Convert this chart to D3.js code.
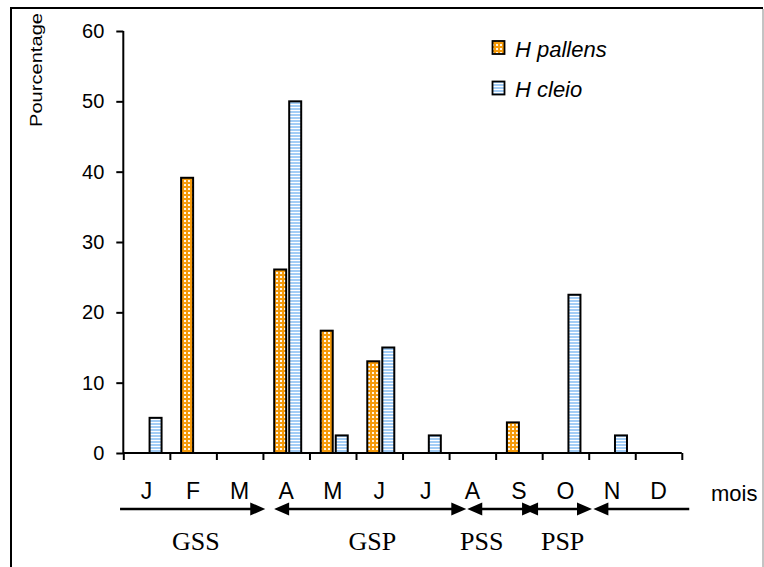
<!DOCTYPE html>
<html>
<head>
<meta charset="utf-8">
<script src="https://cdn.jsdelivr.net/npm/d3@7"></script>
<style>
  html, body { margin: 0; padding: 0; background: #fff; }
  svg { display: block; }
  text { font-family: Arial, "Liberation Sans", sans-serif; fill: #000; }
  .serif { font-family: "Times New Roman", "Liberation Serif", serif; }
</style>
</head>
<body>
<div id="chart"></div>
<script>
// Monthly percentages of the two species
const months = ["J", "F", "M", "A", "M", "J", "J", "A", "S", "O", "N", "D"];
const hPallens = [0, 39.13, 0, 26.09, 17.39, 13.04, 0, 0, 4.35, 0, 0, 0];
const hCleio = [5, 0, 0, 50, 2.5, 15, 2.5, 0, 0, 22.5, 2.5, 0];
const yTicks = [0, 10, 20, 30, 40, 50, 60];
const seriesNames = ["H pallens", "H cleio"];

// Seasons along the month axis (in month units, 0 = start of January)
const seasonNames = ["GSS", "GSP", "PSS", "PSP", ""];
const seasonFrom = [-0.07, 3.24, 7.39, 8.59, 10.1];
const seasonTo = [3.05, 7.37, 8.89, 10.07, 12.16];
const seasonHeadStart = [false, true, true, true, true];
const seasonHeadEnd = [true, true, true, true, false];
const seasonLabelAt = [1.56, 5.35, 7.7, 9.44, 0];

const W = 764, H = 567;
const svg = d3.select("#chart").append("svg").attr("width", W).attr("height", H);

const defs = svg.append("defs");
// orange checker fill
const chk = defs.append("pattern").attr("id", "checker")
  .attr("patternUnits", "userSpaceOnUse").attr("width", 4).attr("height", 4);
chk.append("rect").attr("width", 4).attr("height", 4).attr("fill", "#f59a0a");
chk.append("rect").attr("x", 0).attr("y", 0).attr("width", 2).attr("height", 2).attr("fill", "#fff6e6");
// light-blue horizontal stripes
const str = defs.append("pattern").attr("id", "stripes")
  .attr("patternUnits", "userSpaceOnUse").attr("width", 4).attr("height", 3);
str.append("rect").attr("width", 4).attr("height", 3).attr("fill", "#ffffff");
str.append("rect").attr("y", 0).attr("width", 4).attr("height", 2).attr("fill", "#a3cdf6");

const fills = ["url(#checker)", "url(#stripes)"];

// outer frame
svg.append("path")
  .attr("d", "M11,575 L11,8 L763,8")
  .attr("fill", "none").attr("stroke", "#000").attr("stroke-width", 2);
svg.append("line").attr("x1", 763).attr("x2", 763).attr("y1", 9).attr("y2", 575)
  .attr("stroke", "#888").attr("stroke-width", 1);

const x0 = 123.3, x1 = 681.8, yBase = 453, yTop = 31;
const x = d3.scaleBand().domain(d3.range(months.length)).range([x0, x1]).padding(0);
const xm = d3.scaleLinear().domain([0, 12]).range([x0, x1]);
const y = d3.scaleLinear().domain([0, 60]).range([yBase, yTop]);

// bars
const barW = 12;
const offsets = [-12, 3];
[hPallens, hCleio].forEach((vals, si) => {
  svg.append("g").selectAll("rect")
    .data(vals.map((v, i) => ({ v, i })).filter(d => d.v > 0))
    .join("rect")
    .attr("x", d => x(d.i) + x.bandwidth() / 2 + offsets[si])
    .attr("y", d => y(d.v))
    .attr("width", barW)
    .attr("height", d => yBase - y(d.v))
    .attr("fill", fills[si])
    .attr("stroke", "#000")
    .attr("stroke-width", 2);
});

// y axis
const yAxis = svg.append("g").attr("transform", `translate(${x0},0)`)
  .call(d3.axisLeft(y).tickValues(yTicks).tickSize(7).tickPadding(12).tickFormat(d3.format("d")));
yAxis.select(".domain").attr("d", `M0,${yTop}V${yBase}`).attr("stroke-width", 2);
yAxis.selectAll(".tick line").attr("stroke-width", 2);
yAxis.selectAll(".tick text").style("font-size", "20px").attr("font-family", null);

// x axis (ticks at month boundaries)
const xAxis = svg.append("g").attr("transform", `translate(0,${yBase})`)
  .call(d3.axisBottom(xm).tickValues(d3.range(13)).tickSize(7).tickFormat(""));
xAxis.select(".domain").attr("d", `M${x0},0H${x1}`).attr("stroke-width", 2);
xAxis.selectAll(".tick line").attr("stroke-width", 2);

// month labels
svg.append("g").selectAll("text").data(months).join("text")
  .attr("x", (d, i) => x(i) + x.bandwidth() / 2)
  .attr("y", 499)
  .attr("text-anchor", "middle")
  .style("font-size", "23px")
  .text(d => d);

svg.append("text").attr("x", 711).attr("y", 501).style("font-size", "22px").text("mois");

// y-axis title
svg.append("text")
  .attr("transform", "translate(42,70) rotate(-90)")
  .attr("text-anchor", "middle")
  .style("font-size", "17px")
  .attr("textLength", 114).attr("lengthAdjust", "spacingAndGlyphs")
  .text("Pourcentage");

// season arrows
const arrowY = 509, headL = 15, headH = 6.5;
const ag = svg.append("g");
seasonNames.forEach((name, i) => {
  const a = xm(seasonFrom[i]), b = xm(seasonTo[i]);
  ag.append("line")
    .attr("x1", seasonHeadStart[i] ? a + headL - 2 : a).attr("x2", seasonHeadEnd[i] ? b - headL + 2 : b)
    .attr("y1", arrowY).attr("y2", arrowY)
    .attr("stroke", "#000").attr("stroke-width", 2.5);
  if (seasonHeadEnd[i]) {
    ag.append("path").attr("d", `M${b},${arrowY}L${b - headL},${arrowY - headH}L${b - headL},${arrowY + headH}Z`).attr("fill", "#000");
  }
  if (seasonHeadStart[i]) {
    ag.append("path").attr("d", `M${a},${arrowY}L${a + headL},${arrowY - headH}L${a + headL},${arrowY + headH}Z`).attr("fill", "#000");
  }
  if (name) {
    ag.append("text").attr("class", "serif")
      .attr("x", xm(seasonLabelAt[i])).attr("y", 550)
      .attr("text-anchor", "middle")
      .style("font-size", "26px")
      .text(name);
  }
});

// legend
const lg = svg.append("g");
seriesNames.forEach((name, i) => {
  const ly = 41 + i * 40.5;
  lg.append("rect").attr("x", 492.5).attr("y", ly).attr("width", 12).attr("height", 13)
    .attr("fill", fills[i]).attr("stroke", "#000").attr("stroke-width", 1.8);
  lg.append("text").attr("x", 515).attr("y", ly + 15.5)
    .style("font-size", "22px").style("font-style", "italic")
    .text(name);
});
</script>
</body>
</html>
